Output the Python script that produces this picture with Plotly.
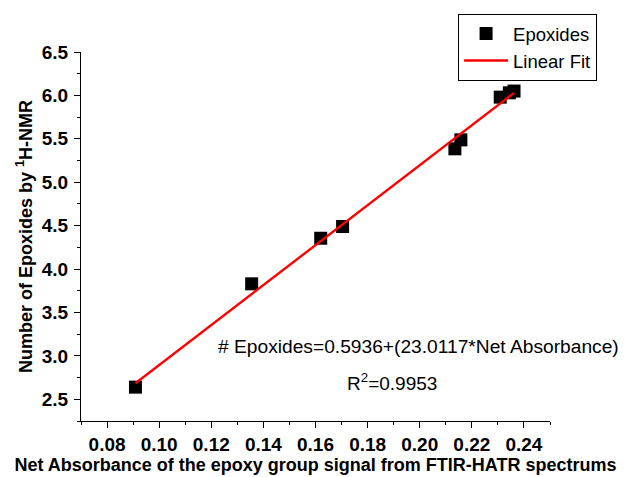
import plotly.graph_objects as go

# Data
absorbance = [0.0909, 0.1355, 0.1620, 0.1704, 0.2135, 0.2158, 0.2309, 0.2344, 0.2362]
epoxides = [2.64, 3.83, 4.355, 4.49, 5.385, 5.488, 5.98, 6.03, 6.05]

fit_intercept = 0.5936
fit_slope = 23.0117
r_squared = 0.9953

x_ticks = [0.08, 0.10, 0.12, 0.14, 0.16, 0.18, 0.20, 0.22, 0.24]
y_ticks = [2.5, 3.0, 3.5, 4.0, 4.5, 5.0, 5.5, 6.0, 6.5]

fit_x = [min(absorbance), max(absorbance)]
fit_y = [fit_intercept + fit_slope * v for v in fit_x]

FONT = "Liberation Sans, Arial, sans-serif"

fig = go.Figure()
fig.add_trace(go.Scatter(
    x=absorbance, y=epoxides, mode="markers", name="Epoxides",
    marker=dict(symbol="square", size=13, color="black", line=dict(width=0)),
))
fig.add_trace(go.Scatter(
    x=fit_x, y=fit_y, mode="lines", name="Linear Fit",
    line=dict(color="#ff0000", width=2.4),
))

axis_common = dict(
    showline=True, linecolor="black", linewidth=1.3, mirror=False,
    ticks="outside", ticklen=6, tickwidth=1.3, tickcolor="black",
    showgrid=False, zeroline=False,
    tickfont=dict(family=FONT, size=19, color="black", weight="bold"),
)

fig.update_xaxes(
    range=[0.07, 0.25], tickvals=x_ticks,
    ticktext=[f"{v:.2f}" for v in x_ticks],
    minor=dict(ticks="outside", ticklen=3, tickwidth=1.2, tickcolor="black", dtick=0.01),
    title=dict(text="<b>Net Absorbance of the epoxy group signal from FTIR-HATR spectrums</b>",
               font=dict(family=FONT, size=18, color="black"), standoff=4),
    **axis_common,
)
fig.update_yaxes(
    range=[2.25, 6.5], tickvals=y_ticks,
    ticktext=[f"{v:.1f}" for v in y_ticks],
    minor=dict(ticks="outside", ticklen=3, tickwidth=1.2, tickcolor="black", dtick=0.25),
    ticklabelstandoff=2,
    title=dict(text="<b>Number of Epoxides by <sup>1</sup>H-NMR</b>",
               font=dict(family=FONT, size=18, color="black"), standoff=4),
    **axis_common,
)

fig.add_annotation(
    text="# Epoxides=0.5936+(23.0117*Net Absorbance)",
    xref="paper", yref="paper", x=0.7186, y=0.2014, showarrow=False,
    xanchor="center", yanchor="middle",
    font=dict(family=FONT, size=19.2, color="black"),
)
fig.add_annotation(
    text=f"R<sup>2</sup>={r_squared}",
    xref="paper", yref="paper", x=0.663, y=0.1065, showarrow=False,
    xanchor="center", yanchor="middle",
    font=dict(family=FONT, size=19, color="black"),
)

fig.update_layout(
    width=618, height=469, autosize=False,
    margin=dict(l=73, r=76, t=44, b=56, autoexpand=False),
    paper_bgcolor="white", plot_bgcolor="white",
    showlegend=True,
    legend=dict(
        x=0.804, y=1.103, xanchor="left", yanchor="top",
        bordercolor="black", borderwidth=1, bgcolor="white",
        font=dict(family=FONT, size=18.5, color="black"),
        tracegroupgap=0, itemwidth=44,
    ),
)

fig.write_html("out.html")
